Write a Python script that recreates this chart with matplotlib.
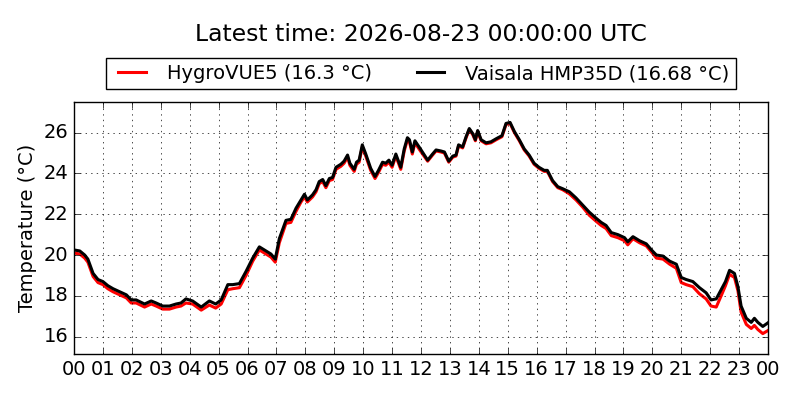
import datetime as dt

import matplotlib
matplotlib.use('Agg')
import matplotlib.pyplot as plt
import matplotlib.dates as mdates

# hours since 2026-08-22 00:00 UTC
hours = [0.0, 0.2, 0.37, 0.48, 0.66, 0.83, 1.0, 1.17, 1.35, 1.58, 1.81, 1.98,
         2.15, 2.44, 2.67, 2.84, 3.07, 3.3, 3.53, 3.7, 3.87, 4.1, 4.4, 4.68,
         4.9, 5.09, 5.32, 5.49, 5.72, 5.95, 6.18, 6.41, 6.64, 6.81, 6.96, 7.1,
         7.33, 7.5, 7.68, 7.85, 7.97, 8.07, 8.25, 8.37, 8.48, 8.6, 8.71, 8.83,
         8.94, 9.06, 9.23, 9.34, 9.46, 9.54, 9.69, 9.77, 9.86, 9.97, 10.09,
         10.26, 10.41, 10.53, 10.67, 10.78, 10.89, 11.0, 11.13, 11.3, 11.42,
         11.53, 11.6, 11.7, 11.79, 11.98, 12.23, 12.4, 12.52, 12.69, 12.81,
         12.96, 13.1, 13.21, 13.3, 13.44, 13.56, 13.67, 13.79, 13.88, 13.96,
         14.08, 14.25, 14.42, 14.6, 14.8, 14.94, 15.08, 15.23, 15.4, 15.57,
         15.74, 15.91, 16.08, 16.26, 16.37, 16.55, 16.73, 16.9, 17.13, 17.36,
         17.59, 17.82, 18.06, 18.23, 18.4, 18.58, 18.81, 19.04, 19.15, 19.33,
         19.56, 19.79, 19.97, 20.14, 20.37, 20.6, 20.83, 21.0, 21.17, 21.4,
         21.63, 21.86, 22.03, 22.21, 22.38, 22.53, 22.67, 22.84, 22.96, 23.07,
         23.25, 23.42, 23.53, 23.65, 23.82, 24.0]

t_vaisala = [20.25, 20.2, 20.0, 19.8, 19.1, 18.8, 18.7, 18.5, 18.35, 18.2, 18.05, 17.8,
             17.8, 17.6, 17.75, 17.65, 17.5, 17.5, 17.6, 17.65, 17.85, 17.75, 17.45, 17.75,
             17.6, 17.8, 18.55, 18.55, 18.6, 19.2, 19.85, 20.4, 20.2, 20.05, 19.8, 20.8,
             21.7, 21.75, 22.3, 22.7, 22.98, 22.7, 22.95, 23.2, 23.6, 23.7, 23.4, 23.75,
             23.8, 24.3, 24.45, 24.6, 24.9, 24.5, 24.2, 24.55, 24.65, 25.4, 24.95,
             24.25, 23.85, 24.15, 24.55, 24.5, 24.65, 24.4, 24.95, 24.3, 25.2,
             25.75, 25.65, 25.05, 25.6, 25.2, 24.65, 24.95, 25.15, 25.1, 25.05,
             24.6, 24.85, 24.9, 25.4, 25.3, 25.8, 26.2, 25.95, 25.65, 26.1,
             25.65, 25.5, 25.55, 25.7, 25.85, 26.45, 26.5, 26.05, 25.65, 25.2,
             24.9, 24.5, 24.3, 24.15, 24.15, 23.65, 23.35, 23.25, 23.1, 22.8,
             22.45, 22.1, 21.8, 21.6, 21.45, 21.1, 21.0, 20.85, 20.65, 20.9,
             20.7, 20.55, 20.25, 20.0, 19.95, 19.7, 19.55, 18.9, 18.8, 18.7,
             18.4, 18.15, 17.8, 17.85, 18.3, 18.7, 19.25, 19.1, 18.45, 17.5,
             16.9, 16.7, 16.9, 16.7, 16.5, 16.68]

t_hygrovue = [20.1, 20.05, 19.85, 19.65, 18.95, 18.65, 18.55, 18.35, 18.2, 18.05, 17.9, 17.65,
              17.65, 17.45, 17.6, 17.5, 17.35, 17.35, 17.45, 17.5, 17.65, 17.6, 17.3, 17.55,
              17.4, 17.6, 18.3, 18.35, 18.4, 19.0, 19.7, 20.25, 20.05, 19.9, 19.65, 20.6,
              21.55, 21.6, 22.15, 22.6, 22.85, 22.6, 22.85, 23.1, 23.5, 23.6, 23.3, 23.65,
              23.7, 24.2, 24.35, 24.5, 24.8, 24.4, 24.1, 24.45, 24.55, 25.3, 24.85,
              24.15, 23.75, 24.05, 24.45, 24.4, 24.55, 24.3, 24.85, 24.2, 25.1,
              25.65, 25.55, 24.95, 25.5, 25.1, 24.6, 24.9, 25.1, 25.05, 25.0,
              24.55, 24.8, 24.85, 25.35, 25.25, 25.75, 26.15, 25.9, 25.6, 26.05,
              25.6, 25.45, 25.5, 25.65, 25.8, 26.4, 26.45, 26.0, 25.6, 25.15,
              24.85, 24.45, 24.25, 24.1, 24.1, 23.6, 23.3, 23.2, 23.0, 22.7,
              22.35, 21.95, 21.65, 21.45, 21.3, 20.95, 20.85, 20.7, 20.5, 20.8,
              20.6, 20.45, 20.15, 19.85, 19.8, 19.55, 19.35, 18.65, 18.55, 18.45,
              18.1, 17.85, 17.5, 17.45, 18.0, 18.5, 19.05, 18.9, 18.25, 17.2,
              16.6, 16.4, 16.55, 16.35, 16.15, 16.3]

start = dt.datetime(2026, 8, 22, 0, 0)
times = [start + dt.timedelta(hours=h) for h in hours]

plt.style.use('classic')
plt.rcParams['figure.facecolor'] = 'white'
plt.rcParams['savefig.facecolor'] = 'white'

fig = plt.figure(figsize=(8, 4), dpi=100)
ax = fig.add_axes([0.0925, 0.115, 0.8675, 0.63])

ax.plot(times, t_hygrovue, color='red', lw=2.2,
        label='HygroVUE5 (%s °C)' % t_hygrovue[-1])
ax.plot(times, t_vaisala, color='black', lw=2.2,
        label='Vaisala HMP35D (%s °C)' % t_vaisala[-1])

ax.set_xlim(start, start + dt.timedelta(hours=24))
lo = min(min(t_hygrovue), min(t_vaisala))
hi = max(max(t_hygrovue), max(t_vaisala))
ax.set_ylim(lo - 1, hi + 1)
ax.set_yticks([16, 18, 20, 22, 24, 26])
ax.xaxis.set_major_locator(mdates.HourLocator(interval=1))
ax.xaxis.set_major_formatter(mdates.DateFormatter('%H'))
ax.tick_params(labelsize=14)
ax.set_ylabel('Temperature (°C)', fontsize=14)
ax.grid(True)

ax.legend(loc='lower center', bbox_to_anchor=(0.5, 1.05), ncol=2,
          fontsize=14, frameon=True, borderaxespad=0, borderpad=0.32)
fig.text(0.526, 0.913, 'Latest time: 2026-08-23 00:00:00 UTC',
         ha='center', va='center', fontsize=16.9)

plt.savefig('out.png', dpi=100)
